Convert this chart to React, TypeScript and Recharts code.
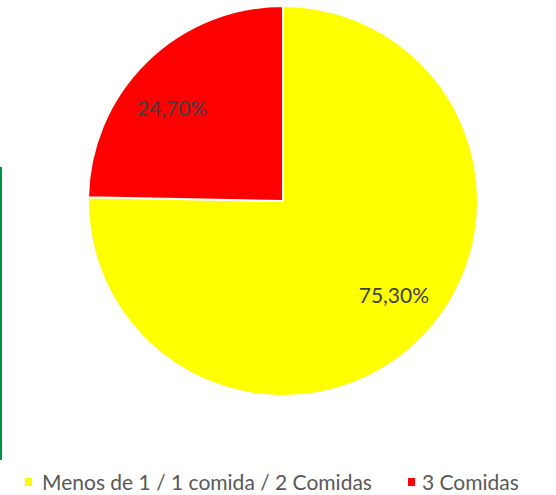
import { Cell, Legend, Pie, PieChart } from "recharts"

const categories = ["Menos de 1 / 1 comida / 2 Comidas", "3 Comidas"]
const shares = [75.3, 24.7]
const labels = ["75,30%", "24,70%"]
const colors = ["#FFFF00", "#FF0000"]

const chartData = categories.map((name, i) => ({
  name,
  value: shares[i],
  label: labels[i],
}))

const RADIAN = Math.PI / 180
const FONT = "Lato, 'Open Sans', sans-serif"

const renderLabel = (props: any) => {
  const { cx, cy, midAngle, outerRadius, index } = props
  const r = outerRadius * 0.745
  // excel nudges the labels a little toward the horizontal
  const angle = (midAngle + 5.3) * RADIAN
  const x = cx + r * Math.cos(-angle)
  const y = cy + r * Math.sin(-angle)
  return (
    <text
      x={x}
      y={y}
      fill="#404040"
      fontSize={21}
      fontFamily={FONT}
      textAnchor="middle"
      dominantBaseline="central"
    >
      {chartData[index].label}
    </text>
  )
}

const renderLegend = () => (
  <div
    style={{
      display: "flex",
      fontFamily: FONT,
      fontSize: 21,
      lineHeight: "24px",
      color: "#595959",
      alignItems: "center",
      whiteSpace: "nowrap",
    }}
  >
    {chartData.map((d, i) => (
      <div
        key={d.name}
        style={{ display: "flex", alignItems: "center", marginRight: i === 0 ? 36 : 0 }}
      >
        <span
          style={{
            width: 7,
            height: 8,
            background: colors[i],
            display: "inline-block",
            marginRight: i === 0 ? 10 : 7,
          }}
        />
        <span>{d.name}</span>
      </div>
    ))}
  </div>
)

export default function App() {
  return (
    <div style={{ position: "relative", width: 556, height: 495, background: "#fff", overflow: "hidden" }}>
      <style>{"body { margin: 0; }"}</style>
      <PieChart width={556} height={495} margin={{ top: 0, right: 0, bottom: 0, left: 0 }}>
        <Pie
          data={chartData}
          dataKey="value"
          nameKey="name"
          cx={283}
          cy={201}
          outerRadius={195}
          startAngle={90}
          endAngle={-270}
          stroke="#FFFFFF"
          strokeWidth={2}
          label={renderLabel}
          labelLine={false}
          legendType="square"
          isAnimationActive={false}
        >
          {chartData.map((d, i) => (
            <Cell key={d.name} fill={colors[i]} />
          ))}
        </Pie>
        <Legend
          content={renderLegend}
          wrapperStyle={{ position: "absolute", left: 25, top: 470, width: "auto" }}
        />
      </PieChart>
      <div
        style={{
          position: "absolute",
          left: 0,
          top: 167,
          width: 2,
          height: 293,
          background: "#00914A",
          zIndex: 2,
        }}
      />
    </div>
  )
}
